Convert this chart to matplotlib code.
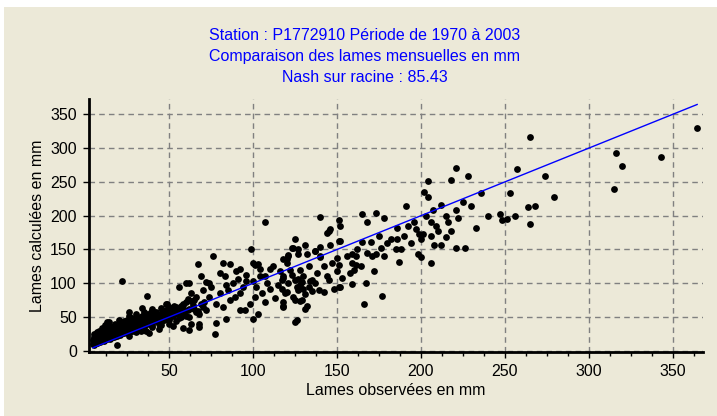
import matplotlib
matplotlib.use('Agg')
import matplotlib.pyplot as plt
from matplotlib.patches import Rectangle
from matplotlib.ticker import MultipleLocator
import numpy as np

plt.rcParams['font.family'] = ['Liberation Sans', 'DejaVu Sans']

obs_low = [4.5, 4.5, 5, 5, 5, 5.5, 5.5, 6, 6, 7, 7, 8, 8, 8, 9, 9, 10, 10, 10, 11,
           11, 12, 12, 12, 13, 13, 14, 14, 15, 15, 15, 16, 16, 17, 17, 18, 18, 19, 19, 20,
           20, 21, 21, 22, 22, 23, 23, 24, 24, 25, 25, 26, 26, 27, 27, 28, 28, 29, 30, 30,
           31, 31, 32, 33, 33, 34, 35, 35, 36, 37, 38, 38, 39, 40, 40, 41, 42, 42, 43, 44,
           45, 45, 46, 47, 48, 48, 49, 50, 50, 51, 52, 53, 54, 55, 56, 57, 58, 59]
cal_low = [10, 16, 8, 20, 12, 18, 25, 14, 22, 11, 28, 16, 24, 30, 13, 21, 18, 26, 34, 15,
           29, 20, 24, 38, 17, 31, 22, 42, 18, 27, 35, 24, 33, 20, 30, 26, 40, 22, 35, 28,
           45, 24, 36, 30, 40, 26, 44, 32, 38, 28, 46, 34, 52, 30, 42, 36, 48, 32, 38, 55,
           34, 45, 40, 30, 50, 44, 36, 58, 42, 48, 40, 55, 46, 38, 62, 50, 44, 56, 48, 52,
           42, 64, 58, 46, 50, 70, 54, 48, 60, 56, 52, 66, 44, 58, 62, 50, 68, 54]

obs_fill = [20, 22, 24, 26, 28, 30, 32, 34, 36, 38, 40, 42, 44, 46, 48, 50, 52, 54, 56, 58,
            60, 62, 64, 66, 68, 70, 36, 40, 45, 50, 30, 26, 18, 14, 16, 10, 8, 6, 12, 11,
            58, 63, 19, 22, 37, 34, 26, 13, 44]
cal_fill = [25, 30, 28, 35, 40, 33, 48, 38, 45, 50, 42, 58, 40, 52, 60, 45, 55, 65, 48, 62,
            72, 50, 68, 80, 55, 65, 30, 35, 38, 40, 28, 22, 22, 26, 28, 22, 18, 15, 30, 24,
            34, 40, 9, 103, 81, 64, 57, 42, 46]

# amas proche de l'origine
obs_amas = [5, 6, 7, 7, 8, 9, 9, 10, 11, 12, 13, 14, 15, 16, 17, 18, 19, 20, 21, 22,
            23, 24, 25, 26, 27, 28, 29, 30, 31, 32, 33, 34, 35, 36, 37, 38, 39, 41, 43, 45,
            47, 49, 51, 53, 55, 57, 59, 61, 63, 65, 67, 69, 12, 16, 20, 24, 28, 32, 36, 40]
cal_amas = [14, 19, 12, 24, 20, 15, 27, 30, 19, 27, 23, 35, 31, 21, 37, 33, 29, 38, 31, 27,
            41, 36, 33, 39, 34, 44, 39, 47, 41, 37, 44, 52, 47, 39, 52, 45, 57, 48, 45, 55,
            47, 58, 51, 60, 54, 66, 57, 60, 74, 62, 59, 70, 36, 36, 32, 43, 30, 42, 54, 52]

obs_mid = [107, 99, 76, 67, 82, 86, 92, 103, 60, 62, 56, 69, 74, 83, 84, 49, 77, 62, 68, 78,
           84, 100, 103, 92, 38, 44, 126, 50, 72, 91, 96, 100, 80, 89, 71, 61, 62, 47, 52, 68,
           95, 124, 137, 140, 121, 120, 101, 104, 110, 107, 118, 100, 127, 130, 139, 101, 107, 118,
           55, 58, 60, 63, 65, 66, 70, 72, 74, 75, 78, 80, 82, 85, 86, 88, 90, 92, 94, 96,
           98, 102, 104, 105, 108, 110, 112, 113, 115, 116, 119, 121, 123, 126, 128, 130, 133, 135,
           138, 142, 144, 147, 150, 153, 156, 158, 162, 164, 168, 172, 175, 178, 182, 185, 190, 194,
           197, 200, 203, 209, 212, 216, 225, 230, 240, 256, 268, 228]
cal_mid = [190, 150, 140, 128, 130, 128, 121, 129, 100, 100, 94, 110, 101, 110, 97, 70, 25, 31, 40, 41,
           47, 47, 55, 60, 26, 32, 45, 65, 102, 106, 104, 130, 86, 80, 72, 77, 62, 47, 37, 35,
           61, 152, 148, 139, 142, 136, 127, 121, 121, 110, 110, 104, 106, 91, 90, 80, 72, 66,
           60, 70, 52, 85, 75, 58, 90, 60, 80, 95, 70, 115, 65, 90, 75, 100, 118, 85, 95, 112,
           70, 95, 110, 85, 100, 92, 125, 78, 98, 118, 85, 100, 112, 95, 120, 110, 125, 88,
           115, 125, 110, 130, 118, 108, 140, 115, 150, 125, 145, 118, 170, 140, 165, 150, 170, 160,
           180, 165, 200, 185, 216, 190, 220, 215, 200, 200, 215, 258]

obs_high = [221, 218, 204, 202, 204, 207, 221, 215, 222, 191, 196, 192, 186, 233, 206, 199, 201, 206,
            210, 218, 215, 208, 212, 221, 226, 186, 188, 187, 198, 200, 206, 180, 176, 173, 171, 170,
            168, 173, 165, 165, 178, 159, 161, 159, 161, 160, 159, 167, 166, 177, 151, 150, 151, 152,
            151, 152, 145, 144, 146, 146, 140, 140, 137, 140, 151, 148, 145, 152, 142, 137, 134, 133,
            128, 129, 125, 127, 131, 129, 132, 131, 125, 124, 128, 125, 120, 117, 118, 118, 117, 118,
            122, 120, 118, 121, 123, 125, 127, 127, 131, 132, 135]
cal_high = [271, 253, 251, 235, 228, 208, 208, 199, 197, 215, 190, 184, 182, 182, 190, 173, 173, 170,
            178, 177, 168, 157, 157, 152, 152, 166, 150, 132, 144, 139, 130, 160, 152, 143, 140, 161,
            190, 204, 203, 161, 197, 144, 140, 130, 127, 120, 99, 101, 70, 81, 127, 137, 162, 184,
            194, 163, 177, 175, 180, 157, 198, 154, 147, 140, 95, 92, 105, 94, 87, 100, 104, 95,
            97, 102, 105, 90, 84, 75, 67, 62, 75, 79, 74, 42, 87, 91, 72, 65, 105, 108,
            120, 130, 136, 141, 152, 166, 151, 144, 157, 143, 105]

obs_top = [236, 265, 257, 253, 274, 279, 264, 247, 248, 251, 265, 316, 320, 315, 343, 364.5]
cal_top = [233, 317, 269, 233, 258, 228, 213, 203, 193, 195, 188, 293, 273, 240, 287, 330]

obs = np.array(obs_low + obs_fill + obs_amas + obs_mid + obs_high + obs_top)
cal = np.array(cal_low + cal_fill + cal_amas + cal_mid + cal_high + cal_top)

x_ticks = [50, 100, 150, 200, 250, 300, 350]
y_ticks = [0, 50, 100, 150, 200, 250, 300, 350]

titre = ['Station : P1772910 Période de 1970 à 2003',
         'Comparaison des lames mensuelles en mm',
         'Nash sur racine : 85.43']

fond = '#ECE9D8'
bleu = '#0000FF'
taille = 11.5

fig = plt.figure(figsize=(7.17, 4.16), dpi=100, facecolor='white')
fig.patches.append(Rectangle((4 / 717, 0), 1, 1 - 7 / 416, transform=fig.transFigure,
                             facecolor=fond, edgecolor='none', zorder=-10))

ax = fig.add_axes([0.1245, 0.155, 0.856, 0.606])
ax.set_facecolor(fond)
ax.set_xlim(2.4, 368)
ax.set_ylim(-1, 372)

ax.grid(True, which='major', color='#808080', linestyle=(0, (4, 3)), linewidth=1)
ax.set_axisbelow(True)

ax.scatter(obs, cal, s=24, color='black', marker='o', linewidths=0, zorder=3)
# droite 1:1 entre min et max des observations
ax.plot([obs.min(), obs.max()], [obs.min(), obs.max()], color=bleu, linewidth=1, zorder=4)

ax.set_xticks(x_ticks)
ax.set_yticks(y_ticks)
ax.xaxis.set_minor_locator(MultipleLocator(12.5))
ax.tick_params(axis='both', which='major', direction='out', length=4, width=1,
               labelsize=taille, colors='black', pad=5)
ax.tick_params(axis='x', which='minor', direction='out', length=3, width=1)

for s in ['top', 'right']:
    ax.spines[s].set_visible(False)
for s in ['left', 'bottom']:
    ax.spines[s].set_linewidth(2)
    ax.spines[s].set_color('black')

ax.set_xlabel('Lames observées en mm', fontsize=taille, labelpad=3)
ax.set_ylabel('Lames calculées en mm', fontsize=taille, labelpad=4)

for i, t in enumerate(titre):
    fig.text(0.509, 1 - (35 + 21.5 * i) / 416, t, color=bleu, fontsize=taille,
             ha='center', va='center')

fig.savefig('out.png', dpi=100, facecolor=fig.get_facecolor())
